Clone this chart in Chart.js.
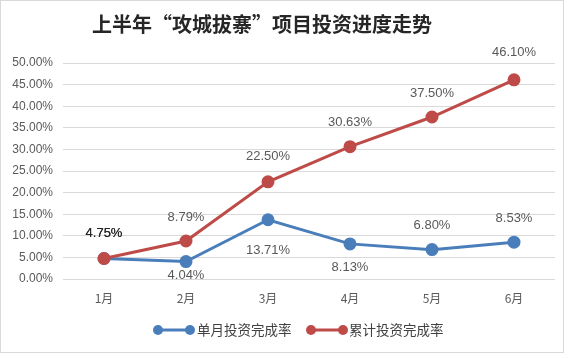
<!DOCTYPE html>
<html><head><meta charset="utf-8">
<script src="https://cdn.jsdelivr.net/npm/chart.js@4/dist/chart.umd.min.js"></script>
<style>html,body{margin:0;padding:0;background:#fff;}#wrap{width:575px;height:358px;}</style>
</head><body><div id="wrap"><canvas id="c" width="575" height="358"></canvas></div>
<script>
const titleText = '上半年“攻城拔寨”项目投资进度走势';
const categories = ['1月','2月','3月','4月','5月','6月'];
const monthlyRate = [4.75, 4.04, 13.71, 8.13, 6.80, 8.53];
const cumulativeRate = [4.75, 8.79, 22.50, 30.63, 37.50, 46.10];
const seriesNames = ['单月投资完成率','累计投资完成率'];
const yTicks = [0,5,10,15,20,25,30,35,40,45,50];

const BLUE = '#4A7EBB', RED = '#BE4B48';
// label offsets (px, relative to point center): negative = above
const monthlyLabelOffset = [-25, 14, 31, 24, -24, -24];
const cumulativeLabelOffset = [-25, -24, -25, -24, -24, -27];

const deco = {
  id: 'deco',
  beforeDraw(chart) {
    const ctx = chart.ctx;
    ctx.save();
    ctx.fillStyle = '#fff';
    ctx.fillRect(0, 0, chart.width, chart.height);
    ctx.restore();
  },
  afterDraw(chart) {
    const ctx = chart.ctx;
    ctx.save();
    ctx.strokeStyle = '#d9d9d9';
    ctx.lineWidth = 1;
    ctx.strokeRect(0.5, 0.5, 563, 352);
    ctx.fillStyle = '#262626';
    ctx.font = 'bold 20px "Noto Sans CJK SC"';
    ctx.textAlign = 'center';
    ctx.textBaseline = 'middle';
    ctx.fillText(titleText, 262, 24);
    ctx.font = '13px "Liberation Sans", Arial, sans-serif';
    const offs = [monthlyLabelOffset, cumulativeLabelOffset];
    chart.data.datasets.forEach((ds, di) => {
      const meta = chart.getDatasetMeta(di);
      meta.data.forEach((pt, i) => {
        const v = ds.data[i];
        ctx.fillStyle = (i === 0) ? '#262626' : '#595959';
        ctx.fillText(v.toFixed(2) + '%', pt.x, pt.y + offs[di][i]);
      });
    });
    const items = [{x1: 158, x2: 190, tx: 197}, {x1: 311, x2: 343, tx: 349}];
    const ly = 330;
    ctx.font = '13.5px "Noto Sans CJK SC"';
    ctx.textAlign = 'left';
    chart.data.datasets.forEach((ds, di) => {
      const it = items[di];
      ctx.strokeStyle = ds.borderColor;
      ctx.lineWidth = 3;
      ctx.beginPath(); ctx.moveTo(it.x1, ly); ctx.lineTo(it.x2, ly); ctx.stroke();
      ctx.fillStyle = ds.borderColor;
      [it.x1, it.x2].forEach(x => { ctx.beginPath(); ctx.arc(x, ly, 5, 0, Math.PI * 2); ctx.fill(); });
      ctx.fillStyle = '#404040';
      ctx.fillText(ds.label, it.tx, ly);
    });
    ctx.restore();
  }
};

new Chart(document.getElementById('c'), {
  type: 'line',
  data: {
    labels: categories,
    datasets: [
      { label: seriesNames[0], data: monthlyRate, borderColor: BLUE, backgroundColor: BLUE,
        pointBackgroundColor: BLUE, pointBorderColor: BLUE, borderWidth: 3, pointRadius: 5, order: 1, tension: 0 },
      { label: seriesNames[1], data: cumulativeRate, borderColor: RED, backgroundColor: RED,
        pointBackgroundColor: RED, pointBorderColor: RED, borderWidth: 3, pointRadius: 5, order: 0, tension: 0 }
    ]
  },
  options: {
    responsive: false,
    animation: false,
    devicePixelRatio: 1,
    layout: { padding: { top: 63, right: 20, left: 0, bottom: 0 } },
    plugins: { legend: { display: false }, title: { display: false }, tooltip: { enabled: false } },
    scales: {
      x: {
        offset: true,
        grid: { display: false },
        border: { display: false },
        ticks: { color: '#595959', font: { family: '"Noto Sans CJK SC"', size: 12 }, padding: 4 },
        afterFit(s) { s.height = 79; }
      },
      y: {
        min: 0, max: 50,
        afterBuildTicks(s) { s.ticks = yTicks.map(v => ({ value: v })); },
        grid: { color: '#d9d9d9', lineWidth: 1, drawTicks: false },
        border: { display: false },
        ticks: { color: '#595959', font: { family: '"Liberation Sans", Arial, sans-serif', size: 12 }, padding: 10,
                 callback: v => v.toFixed(2) + '%' },
        afterFit(s) { s.width = 63; }
      }
    }
  },
  plugins: [deco]
});
</script></body></html>
